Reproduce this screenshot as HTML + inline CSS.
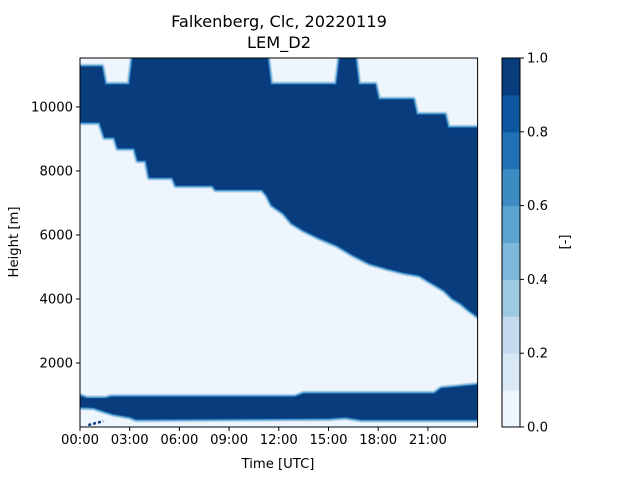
<!DOCTYPE html>
<html><head><meta charset="utf-8"><style>
body{margin:0;background:#fff}
svg{display:block;font-family:"DejaVu Sans","Liberation Sans",sans-serif}
</style></head><body>
<svg id="chart" width="640" height="480" viewBox="0 0 640 480" xmlns="http://www.w3.org/2000/svg">
<rect width="640" height="480" fill="#fff"/>
<g id="plot"></g>
<g id="axes"></g>
<g id="cbar"></g>
<text x="279" y="27" font-size="16.2" text-anchor="middle">Falkenberg, Clc, 20220119</text>
<text x="279" y="48" font-size="16.2" text-anchor="middle">LEM_D2</text>
<text x="278" y="468" font-size="13.2" text-anchor="middle">Time [UTC]</text>
<text transform="translate(18,242) rotate(-90)" font-size="13.2" text-anchor="middle">Height [m]</text>
<text transform="translate(569,242) rotate(-90)" font-size="13.2" text-anchor="middle">[-]</text>
</svg>
<script>
const levels=[0,0.1,0.2,0.3,0.4,0.5,0.6,0.7,0.8,0.9,1.0];
const levelColors=["#eef5fc","#d9e8f5","#c4daee","#9ecae1","#7db8da","#5ba3d0","#3c8bc3","#2171b5","#0d57a1","#083c7d"];
const xTickLabels=["00:00","03:00","06:00","09:00","12:00","15:00","18:00","21:00"];
const xTickHours=[0,3,6,9,12,15,18,21];
const yTickValues=[2000,4000,6000,8000,10000];
const cbTickValues=[0,0.2,0.4,0.6,0.8,1.0];
// upper cloud top [hour, height]
const upperTopHours=[0,1.3,1.5,3.0,3.2,11.3,11.5,15.5,15.7,16.6,16.8,17.8,18.0,20.1,20.3,22.0,22.2,24];
const upperTopHeights=[11250,11250,10690,10690,11530,11530,10690,10690,11530,11530,10690,10690,10220,10220,9750,9750,9340,9340];
// upper cloud base
const upperBaseHours=[0,1.2,1.5,2.1,2.3,3.3,3.5,4.0,4.2,5.6,5.8,8.0,8.2,11.0,11.3,11.6,12.3,12.8,13.5,14.5,15.5,16.5,17.5,18.5,19.5,20.5,21.0,22.0,22.5,23.0,23.5,24];
const upperBaseHeights=[9530,9530,9060,9060,8720,8720,8340,8340,7810,7810,7560,7560,7430,7430,7250,6940,6690,6380,6160,5910,5690,5380,5120,4970,4840,4750,4590,4280,4030,3880,3660,3470];
// lower cloud top
const lowerTopHours=[0,0.4,1.5,1.9,13.0,13.5,21.4,21.8,24];
const lowerTopHeights=[960,880,880,930,930,1030,1030,1190,1300];
// lower cloud base
const lowerBaseHours=[0,0.8,2.0,3.0,3.4,10,15,16,17,24];
const lowerBaseHeights=[630,620,420,330,250,270,280,320,240,240];

const X0=80,X1=477.6,Y0=427,Ymax=11530,Ytop=58;
const xs=h=>X0+(X1-X0)*h/24;
const ys=v=>Y0-(Y0-Ytop)*v/Ymax;
const NS="http://www.w3.org/2000/svg";
function mk(tag,attrs,parent){const e=document.createElementNS(NS,tag);for(const k in attrs)e.setAttribute(k,attrs[k]);parent.appendChild(e);return e;}
const plot=document.getElementById('plot');
const bg=mk('rect',{x:X0,y:Ytop,width:X1-X0,height:Y0-Ytop,fill:levelColors[0]},plot);


function band(th,tv,bh,bv){
  let pts=[];
  for(let i=0;i<th.length;i++)pts.push(xs(th[i]).toFixed(1)+','+ys(tv[i]).toFixed(1));
  for(let i=bh.length-1;i>=0;i--)pts.push(xs(bh[i]).toFixed(1)+','+ys(bv[i]).toFixed(1));
  return pts.join(' ');
}
const up=band(upperTopHours,upperTopHeights,upperBaseHours,upperBaseHeights);
const lo=band(lowerTopHours,lowerTopHeights,lowerBaseHours,lowerBaseHeights);
const edges=[[7,levelColors[2]],[5,levelColors[4]],[3,levelColors[6]],[1.5,levelColors[8]]];
[["upper-cloud",up],["lower-cloud",lo]].forEach(([nm,pts])=>{
  edges.forEach(([w,c])=>{
    const p=mk('polygon',{points:pts,fill:c,stroke:c,'stroke-width':w,'stroke-linejoin':'round'},plot);
    
    
  });
  const p=mk('polygon',{points:pts,fill:levelColors[9]},plot);
  
  
});
const dots=mk('line',{x1:xs(0.5),y1:ys(60),x2:xs(1.4),y2:ys(180),stroke:levelColors[9],'stroke-width':2.5,'stroke-dasharray':'3,2'},plot);


// mask overflow
const clipTop=mk('rect',{x:X0-2,y:0,width:X1-X0+4,height:Ytop,fill:'#fff'},plot);


const clipBot=mk('rect',{x:X0-2,y:Y0,width:X1-X0+4,height:8,fill:'#fff'},plot);


const clipR=mk('rect',{x:X1,y:Ytop-2,width:8,height:Y0-Ytop+4,fill:'#fff'},plot);


const clipL=mk('rect',{x:X0-8,y:Ytop-2,width:8,height:Y0-Ytop+4,fill:'#fff'},plot);



const axes=document.getElementById('axes');
const frame=mk('rect',{x:X0,y:Ytop,width:X1-X0,height:Y0-Ytop,fill:'none',stroke:'#000','stroke-width':1},axes);


xTickHours.forEach((h,i)=>{
  const x=xs(h);
  const t=mk('line',{x1:x,y1:Y0,x2:x,y2:Y0+4,stroke:'#000'},axes);
  
  
  const l=mk('text',{x:x,y:Y0+17,'font-size':13.2,'text-anchor':'middle'},axes);
  l.textContent=xTickLabels[i];
  
  
});
yTickValues.forEach(v=>{
  const y=ys(v);
  const t=mk('line',{x1:X0-4,y1:y,x2:X0,y2:y,stroke:'#000'},axes);
  
  
  const l=mk('text',{x:X0-7,y:y+4.5,'font-size':13.2,'text-anchor':'end'},axes);
  l.textContent=v;
  
  
});
const cb=document.getElementById('cbar');
const CX=502,CW=18,CY0=427,CY1=58;
const cy=v=>CY0-(CY0-CY1)*v;
for(let i=0;i<levelColors.length;i++){
  const r=mk('rect',{x:CX,y:cy(levels[i+1]),width:CW,height:cy(levels[i])-cy(levels[i+1])+0.5,fill:levelColors[i]},cb);
  
  
}
const cf=mk('rect',{x:CX,y:CY1,width:CW,height:CY0-CY1,fill:'none',stroke:'#000'},cb);


cbTickValues.forEach(v=>{
  const y=cy(v);
  const t=mk('line',{x1:CX+CW,y1:y,x2:CX+CW+4,y2:y,stroke:'#000'},cb);
  
  
  const l=mk('text',{x:CX+CW+7,y:y+4.5,'font-size':13.2},cb);
  l.textContent=v.toFixed(1);
  
  
});
</script>
</body></html>
